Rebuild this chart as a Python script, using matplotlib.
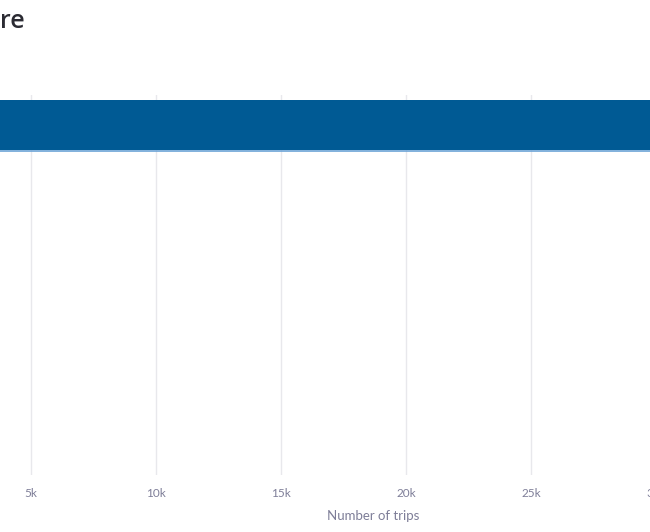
import matplotlib
matplotlib.use("Agg")
import matplotlib.pyplot as plt
from matplotlib.ticker import FuncFormatter

# Data (only the visible part of the chart)
categories = ["A"]
trips = [32000]
tick_values = [0, 5000, 10000, 15000, 20000, 25000, 30000]
title_text = "re"
xlabel_text = "Number of trips"

W, H = 650, 532
fig = plt.figure(figsize=(W / 100, H / 100), dpi=100)

# axes extends beyond the figure (chart is cropped)
x0_px = -94.0          # pixel of value 0
px_per_unit = 0.025    # pixels per trip
xmax = 35000
left = x0_px / W
width = xmax * px_per_unit / W
top_px, bot_px = 95, 475
ax = fig.add_axes([left, 1 - bot_px / H, width, (bot_px - top_px) / H])

ax.barh(categories, trips, height=0.8, color="#005A94", zorder=2)
ax.plot([0, xmax], [-0.41, -0.41], color="#6BA3D6", lw=1.2, zorder=3, solid_capstyle="butt")

ax.set_xlim(0, xmax)
ax.set_ylim(-5.6, 0.48)
ax.set_xticks(tick_values)
ax.xaxis.set_major_formatter(FuncFormatter(lambda v, p: f"{int(v/1000)}k" if v else ""))
ax.set_yticks([])
for s in ax.spines.values():
    s.set_visible(False)
ax.grid(axis="x", color="#E8E8EC", lw=1, zorder=0)
ax.tick_params(axis="x", length=0, pad=9.5, labelsize=8.5, labelcolor="#7E7E98")
for lab in ax.get_xticklabels():
    lab.set_fontfamily("Lato")

fig.text(373 / W, 1 - 516 / H, xlabel_text, ha="center", va="center",
         fontsize=9.5, color="#7E7E98", family="Lato")
fig.text(0 / W, 1 - 22 / H, title_text, ha="left", va="center",
         fontsize=18, color="#2B2B33", family="Open Sans", fontweight="semibold")

fig.savefig("out.png", dpi=100)
